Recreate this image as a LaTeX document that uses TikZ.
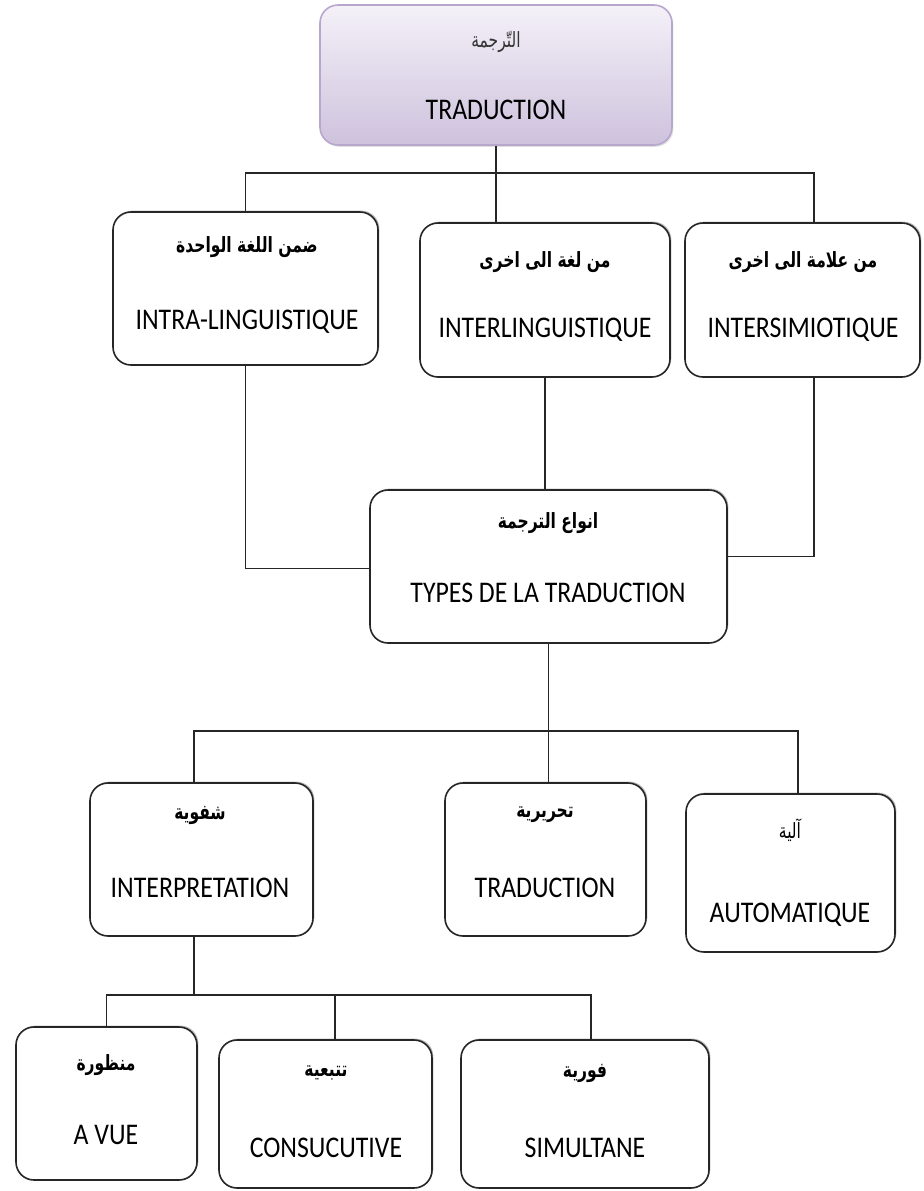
\documentclass[tikz,border=0pt]{standalone}
\usepackage{fontspec}
\setmainfont[FakeStretch=0.86]{Carlito}
\newfontfamily\arfont[Script=Arabic,FakeStretch=0.74]{DejaVu Sans}
\TeXXeTstate=1
\usetikzlibrary{fit,shadows}
\definecolor{topfillA}{HTML}{F4F1F8}
\definecolor{topfillB}{HTML}{CEC2DD}
\definecolor{topdraw}{HTML}{B7A7CD}
\newcommand{\AR}[1]{{\arfont\bfseries\beginR #1\endR}}
\newcommand{\ARn}[1]{{\arfont\beginR #1\endR}}
\begin{document}
\begin{tikzpicture}[x=0.5pt,y=-0.5pt,
  stepbox/.style={draw=black!85, line width=0.8pt, rounded corners=9pt, fill=white, inner sep=0pt,
    drop shadow={shadow xshift=0.7pt, shadow yshift=0.7pt, fill=black!45, opacity=0.6}},
  topbox/.style={draw=topdraw, line width=0.8pt, rounded corners=9pt, inner sep=0pt,
    top color=topfillA, bottom color=topfillB,
    drop shadow={shadow xshift=0.7pt, shadow yshift=-0.9pt, fill=black!25, opacity=0.5}},
  lat/.style={font=\fontsize{15}{17}\selectfont, inner sep=0pt},
  arb/.style={font=\fontsize{10.5}{12}\selectfont, inner sep=0pt},
  link/.style={draw=black!85, line width=0.9pt}]
\useasboundingbox (0,0) rectangle (923,1191);

% boxes
\node[topbox, fit={(320,5) (672,145)}] (top) {};
\node[stepbox, fit={(113,212) (378,365)}] (l1) {};
\node[stepbox, fit={(420,223) (670,377)}] (m1) {};
\node[stepbox, fit={(685,223) (920,377)}] (r1) {};
\node[stepbox, fit={(370,490) (727,643)}] (c) {};
\node[stepbox, fit={(90,783) (313,936)}] (b1) {};
\node[stepbox, fit={(445,783) (646,936)}] (b2) {};
\node[stepbox, fit={(686,794) (895,952)}] (b3) {};
\node[stepbox, fit={(16,1027) (197,1180)}] (d1) {};
\node[stepbox, fit={(219,1040) (432,1188)}] (d2) {};
\node[stepbox, fit={(461,1040) (709,1188)}] (d3) {};

% texts
\node[arb, text=black!80] (topa) at (496,42) {\ARn{التّرجمة}};
\node[lat] (topb) at (496,110) {TRADUCTION};
\node[arb] (l1a) at (247,247) {\AR{ضمن اللغة الواحدة}};
\node[lat] (l1b) at (247,322) {INTRA-LINGUISTIQUE};
\node[arb] (m1a) at (545,262) {\AR{من لغة الى اخرى}};
\node[lat] (m1b) at (545,330) {INTERLINGUISTIQUE};
\node[arb] (r1a) at (803,262) {\AR{من علامة الى اخرى}};
\node[lat] (r1b) at (803,330) {INTERSIMIOTIQUE};
\node[arb] (ca) at (548,523) {\AR{انواع الترجمة}};
\node[lat] (cb) at (548,593) {TYPES DE LA TRADUCTION};
\node[arb] (b1a) at (200,815) {\AR{شفوية}};
\node[lat] (b1b) at (200,888) {INTERPRETATION};
\node[arb] (b2a) at (545,815) {\AR{تحريرية}};
\node[lat] (b2b) at (545,888) {TRADUCTION};
\node[arb] (b3a) at (790,830) {\ARn{آلية}};
\node[lat] (b3b) at (790,915) {AUTOMATIQUE};
\node[arb] (d1a) at (106,1065) {\AR{منظورة}};
\node[lat] (d1b) at (106,1135) {A VUE};
\node[arb] (d2a) at (326,1073) {\AR{تتبعية}};
\node[lat] (d2b) at (326,1148) {CONSUCUTIVE};
\node[arb] (d3a) at (585,1073) {\AR{فورية}};
\node[lat] (d3b) at (585,1148) {SIMULTANE};

% junction coordinates
\coordinate (j1r) at (814,173);
\coordinate (j2) at (548.5,731);
\coordinate (j2l) at (194,731);
\coordinate (j2r) at (798,731);
\coordinate (j3) at (194,995);
\coordinate (j3m) at (335,995);
\coordinate (j3r) at (591,995);

% connectors
\draw[link] (top.south) -- (top.south |- m1.north);
\draw[link] (l1.north) |- (j1r) -- (j1r |- r1.north);
\draw[link] (l1.south) |- ([yshift=-1pt]c.west);
\draw[link] (m1.south) -- (m1.south |- c.north);
\draw[link] (j1r |- r1.south) |- ([yshift=5pt]c.east);
\draw[link] (c.south) -- (j2);
\draw[link] (j2l |- b1.north) -- (j2l) -- (j2r) -- (j2r |- b3.north);
\draw[link] (j2) -- (j2 |- b2.north);
\draw[link] (j2l |- b1.south) -- (j3);
\draw[link] (d1.north) |- (j3r) -- (j3r |- d3.north);
\draw[link] (j3m) -- (j3m |- d2.north);
\end{tikzpicture}
\end{document}
